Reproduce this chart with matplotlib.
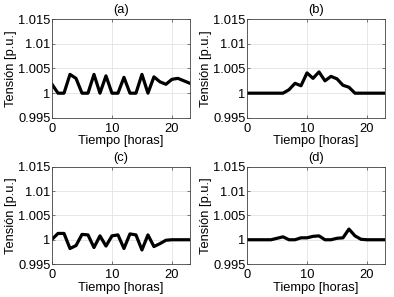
import matplotlib
matplotlib.use("Agg")
import matplotlib.pyplot as plt
import numpy as np

hours = list(range(24))
va = [1.0018, 1.0, 1.0, 1.0038, 1.003, 1.0, 1.0, 1.0038, 1.0, 1.0035, 1.0, 1.0,
      1.0032, 1.0, 1.0, 1.0038, 1.0, 1.0033, 1.0023, 1.0018, 1.0028, 1.003, 1.0025, 1.002]
vb = [1.0, 1.0, 1.0, 1.0, 1.0, 1.0, 1.0, 1.0007, 1.002, 1.0015, 1.0041, 1.003,
      1.0043, 1.0025, 1.0034, 1.0029, 1.0016, 1.0012, 1.0, 1.0, 1.0, 1.0, 1.0, 1.0]
vc = [1.0001, 1.0013, 1.0013, 0.9982, 0.9988, 1.0011, 1.001, 0.9984, 1.0008, 0.9987, 1.0008, 1.001,
      0.9982, 1.0012, 1.001, 0.9979, 1.001, 0.9986, 0.9992, 0.9999, 1.0, 1.0, 1.0, 1.0]
vd = [1.0, 1.0, 1.0, 1.0, 1.0, 1.0003, 1.0006, 1.0, 1.0, 1.0004, 1.0004, 1.0007,
      1.0008, 1.0, 1.0, 1.0003, 1.0004, 1.0022, 1.0008, 1.0001, 1.0, 1.0, 1.0, 1.0]
series = [va, vb, vc, vd]
titles = ["(a)", "(b)", "(c)", "(d)"]
yticks = [0.995, 1.0, 1.005, 1.01, 1.015]
yticklabels = ["0.995", "1", "1.005", "1.01", "1.015"]
xticks = [0, 10, 20]

plt.rcParams['font.family'] = ['Liberation Sans', 'DejaVu Sans']
fig = plt.figure(figsize=(3.94, 2.97), dpi=100)

positions = [
    (0.132, 0.603, 0.350, 0.333),
    (0.627, 0.603, 0.350, 0.333),
    (0.132, 0.111, 0.350, 0.327),
    (0.627, 0.111, 0.350, 0.327),
]

fs = 9.3
for pos, y, t in zip(positions, series, titles):
    ax = fig.add_axes(pos)
    ax.plot(hours, y, color='black', lw=2.3)
    ax.set_xlim(0, 23)
    ax.set_ylim(0.995, 1.015)
    ax.set_xticks(xticks)
    ax.set_yticks(yticks)
    ax.set_yticklabels(yticklabels)
    ax.grid(True, color='#e3e3e3', lw=0.6)
    ax.set_axisbelow(True)
    ax.tick_params(direction='in', length=2, width=0.5, labelsize=fs,
                   top=True, right=True, colors='#444444', labelcolor='black')
    ax.tick_params(axis='x', pad=3.5)
    ax.tick_params(axis='y', pad=1.0)
    for s in ax.spines.values():
        s.set_color('#444444')
        s.set_linewidth(0.6)
    ax.set_title(t, fontsize=fs, pad=4)
    ax.set_xlabel("Tiempo [horas]", fontsize=fs, labelpad=0.5)
    ax.set_ylabel("Tensión [p.u.]", fontsize=fs, labelpad=1)

fig.savefig("out.png", dpi=100)
